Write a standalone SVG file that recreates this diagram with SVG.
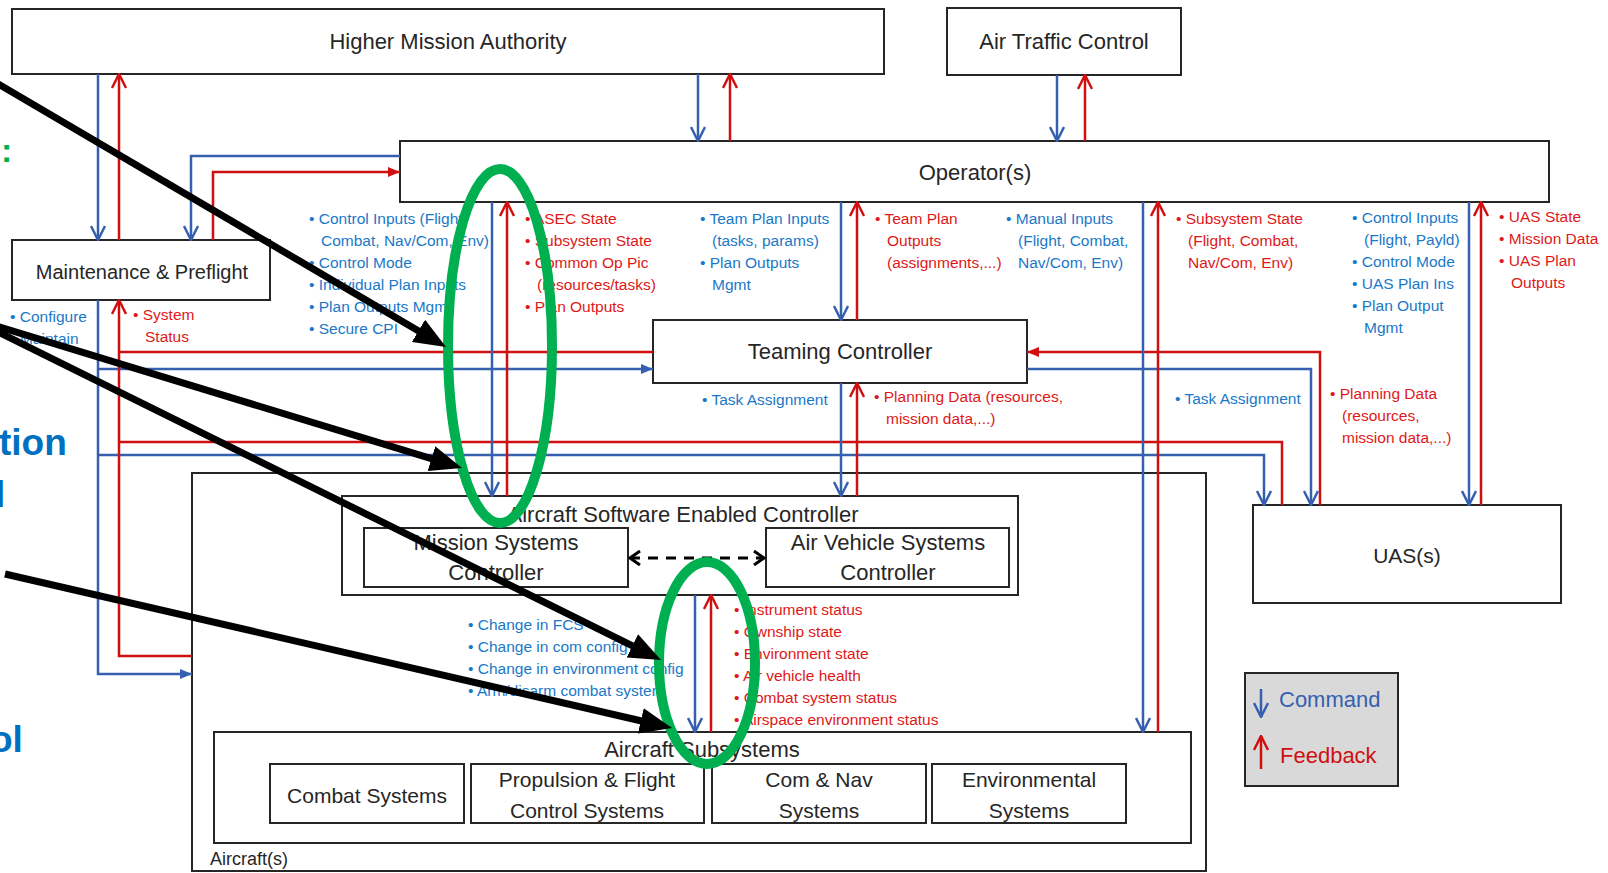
<svg xmlns="http://www.w3.org/2000/svg" width="1608" height="873" viewBox="0 0 1608 873">
  <defs>
    <style>
      .box{fill:#fff;stroke:#262626;stroke-width:2}
      .lbl{font-family:"Liberation Sans",Arial,sans-serif;font-size:22px;fill:#262626;text-anchor:middle}
      .cmd{fill:none;stroke:#3560b0;stroke-width:2.5}
      .fb{fill:none;stroke:#d01010;stroke-width:2.5}
      .tb{font-family:"Liberation Sans",Arial,sans-serif;font-size:15.5px;fill:#1a78c8}
      .tr{font-family:"Liberation Sans",Arial,sans-serif;font-size:15.5px;fill:#e01818}
      .side{font-family:"Liberation Sans",Arial,sans-serif;font-weight:bold;fill:#0070c0}
      .note{fill:none;stroke:#000;stroke-width:7}
      .ring{fill:none;stroke:#00b050;stroke-width:10}
    </style>
    <!-- open chevron heads for vertical flows -->
    <marker id="vB" viewBox="0 0 16 16" refX="15" refY="8" markerWidth="16" markerHeight="16" markerUnits="userSpaceOnUse" orient="auto">
      <path d="M1,1 L15,8 L1,15" fill="none" stroke="#3560b0" stroke-width="2.5"/>
    </marker>
    <marker id="vR" viewBox="0 0 16 16" refX="15" refY="8" markerWidth="16" markerHeight="16" markerUnits="userSpaceOnUse" orient="auto">
      <path d="M1,1 L15,8 L1,15" fill="none" stroke="#d01010" stroke-width="2.5"/>
    </marker>
    <!-- solid heads for horizontal flows -->
    <marker id="tB" viewBox="0 0 12 12" refX="12" refY="6" markerWidth="12" markerHeight="12" markerUnits="userSpaceOnUse" orient="auto">
      <path d="M0,1 L12,6 L0,11 z" fill="#3560b0"/>
    </marker>
    <marker id="tR" viewBox="0 0 12 12" refX="12" refY="6" markerWidth="12" markerHeight="12" markerUnits="userSpaceOnUse" orient="auto">
      <path d="M0,1 L12,6 L0,11 z" fill="#d01010"/>
    </marker>
    <marker id="chev" viewBox="0 0 14 16" refX="12" refY="8" markerWidth="14" markerHeight="16" markerUnits="userSpaceOnUse" orient="auto-start-reverse">
      <path d="M2,1 L12,8 L2,15" fill="none" stroke="#000" stroke-width="3"/>
    </marker>
    <marker id="big" viewBox="0 0 32 26" refX="12" refY="13" markerWidth="32" markerHeight="26" markerUnits="userSpaceOnUse" orient="auto">
      <path d="M0,0 L32,13 L0,26 z" fill="#000"/>
    </marker>
  </defs>

  <rect width="1608" height="873" fill="#fff"/>

  <!-- nodes -->
  <g id="aircraft">
    <rect class="box" x="192" y="473" width="1014" height="398"/>
    <text x="210" y="865" font-family="Liberation Sans, Arial, sans-serif" font-size="18" fill="#262626">Aircraft(s)</text>
  </g>
  <g id="higher-mission-authority">
    <rect class="box" x="12" y="9" width="872" height="65"/>
    <text class="lbl" x="448" y="49">Higher Mission Authority</text>
  </g>
  <g id="air-traffic-control">
    <rect class="box" x="947" y="8" width="234" height="67"/>
    <text class="lbl" x="1064" y="49">Air Traffic Control</text>
  </g>
  <g id="operators">
    <rect class="box" x="400" y="141" width="1149" height="61"/>
    <text class="lbl" x="975" y="180">Operator(s)</text>
  </g>
  <g id="maintenance">
    <rect class="box" x="12" y="240" width="258" height="60"/>
    <text class="lbl" x="142" y="279" style="font-size:20px">Maintenance &amp; Preflight</text>
  </g>
  <g id="teaming-controller">
    <rect class="box" x="653" y="320" width="374" height="63"/>
    <text class="lbl" x="840" y="359">Teaming Controller</text>
  </g>
  <g id="asec">
    <rect class="box" x="342" y="496" width="676" height="99"/>
    <text class="lbl" x="683" y="522">Aircraft Software Enabled Controller</text>
  </g>
  <g id="mission-systems-controller">
    <rect class="box" x="364" y="528" width="264" height="59"/>
    <text class="lbl" x="496" y="550">Mission Systems</text>
    <text class="lbl" x="496" y="580">Controller</text>
  </g>
  <g id="air-vehicle-systems-controller">
    <rect class="box" x="766" y="528" width="243" height="59"/>
    <text class="lbl" x="888" y="550">Air Vehicle Systems</text>
    <text class="lbl" x="888" y="580">Controller</text>
  </g>
  <g id="aircraft-subsystems">
    <rect class="box" x="214" y="732" width="977" height="111"/>
    <text class="lbl" x="702" y="757">Aircraft Subsystems</text>
  </g>
  <g id="combat-systems">
    <rect class="box" x="270" y="764" width="194" height="59"/>
    <text class="lbl" x="367" y="803" style="font-size:21px">Combat Systems</text>
  </g>
  <g id="propulsion-flight-control">
    <rect class="box" x="471" y="764" width="233" height="59"/>
    <text class="lbl" x="587" y="787" style="font-size:21px">Propulsion &amp; Flight</text>
    <text class="lbl" x="587" y="818" style="font-size:21px">Control Systems</text>
  </g>
  <g id="com-nav-systems">
    <rect class="box" x="712" y="764" width="214" height="59"/>
    <text class="lbl" x="819" y="787" style="font-size:21px">Com &amp; Nav</text>
    <text class="lbl" x="819" y="818" style="font-size:21px">Systems</text>
  </g>
  <g id="environmental-systems">
    <rect class="box" x="932" y="764" width="194" height="59"/>
    <text class="lbl" x="1029" y="787" style="font-size:21px">Environmental</text>
    <text class="lbl" x="1029" y="818" style="font-size:21px">Systems</text>
  </g>
  <g id="uas">
    <rect class="box" x="1253" y="505" width="308" height="98"/>
    <text class="lbl" x="1407" y="563" style="font-size:21px">UAS(s)</text>
  </g>
  <g id="legend">
    <rect x="1245" y="673" width="153" height="113" fill="#d9d9d9" stroke="#262626" stroke-width="2"/>
    <path class="cmd" d="M1261,689 V717" marker-end="url(#vB)"/>
    <text x="1279" y="707" font-family="Liberation Sans, Arial, sans-serif" font-size="22" fill="#3560b0">Command</text>
    <path class="fb" d="M1261,769 V736" marker-end="url(#vR)"/>
    <text x="1280" y="763" font-family="Liberation Sans, Arial, sans-serif" font-size="22" fill="#d01010">Feedback</text>
  </g>

  <!-- connectors -->
  <g id="connectors">
    <!-- authority / ATC links -->
    <path class="cmd" d="M98,74 V240" marker-end="url(#vB)"/>
    <path class="fb" d="M119,240 V74" marker-end="url(#vR)"/>
    <path class="cmd" d="M698,74 V141" marker-end="url(#vB)"/>
    <path class="fb" d="M730,141 V74" marker-end="url(#vR)"/>
    <path class="cmd" d="M1057,75 V141" marker-end="url(#vB)"/>
    <path class="fb" d="M1085,141 V75" marker-end="url(#vR)"/>
    <!-- operator / maintenance -->
    <path class="cmd" d="M400,156 H191 V240" marker-end="url(#vB)"/>
    <path class="fb" d="M213,240 V172 H400" marker-end="url(#tR)"/>
    <!-- maintenance command bus -->
    <path class="cmd" d="M98,300 V674 H192" marker-end="url(#tB)"/>
    <path class="cmd" d="M98,369 H653" marker-end="url(#tB)"/>
    <path class="cmd" d="M98,455 H1264 V505" marker-end="url(#vB)"/>
    <!-- maintenance feedback bus -->
    <path class="fb" d="M192,656 H119 V300" marker-end="url(#vR)"/>
    <path class="fb" d="M653,352 H119"/>
    <path class="fb" d="M1282,505 V442 H119"/>
    <!-- operator / ASEC -->
    <path class="cmd" d="M492,202 V496" marker-end="url(#vB)"/>
    <path class="fb" d="M507,496 V202" marker-end="url(#vR)"/>
    <!-- operator / teaming -->
    <path class="cmd" d="M841,202 V320" marker-end="url(#vB)"/>
    <path class="fb" d="M857,320 V202" marker-end="url(#vR)"/>
    <!-- teaming / ASEC -->
    <path class="cmd" d="M841,383 V496" marker-end="url(#vB)"/>
    <path class="fb" d="M857,496 V383" marker-end="url(#vR)"/>
    <!-- teaming / UAS -->
    <path class="fb" d="M1320,505 V352 H1027" marker-end="url(#tR)"/>
    <path class="cmd" d="M1027,369 H1311 V505" marker-end="url(#vB)"/>
    <!-- operator / subsystems -->
    <path class="cmd" d="M1143,202 V732" marker-end="url(#vB)"/>
    <path class="fb" d="M1158,732 V202" marker-end="url(#vR)"/>
    <!-- operator / UAS -->
    <path class="cmd" d="M1469,202 V505" marker-end="url(#vB)"/>
    <path class="fb" d="M1481,505 V202" marker-end="url(#vR)"/>
    <!-- ASEC / subsystems -->
    <path class="cmd" d="M695,595 V732" marker-end="url(#vB)"/>
    <path class="fb" d="M711,732 V595" marker-end="url(#vR)"/>
    <!-- controller peer link -->
    <path d="M630,558 H764" fill="none" stroke="#000" stroke-width="3" stroke-dasharray="10 8" marker-start="url(#chev)" marker-end="url(#chev)"/>
  </g>

  <!-- flow labels -->
  <g id="labels">
    <text class="tb" x="10" y="322">• Configure</text>
    <text class="tb" x="20" y="344">Maintain</text>
    <text class="tr" x="133" y="320">• System</text>
    <text class="tr" x="145" y="342">Status</text>

    <text class="tb" x="309" y="224">• Control Inputs (Flight,</text>
    <text class="tb" x="321" y="246">Combat, Nav/Com, Env)</text>
    <text class="tb" x="309" y="268">• Control Mode</text>
    <text class="tb" x="309" y="290">• Individual Plan Inputs</text>
    <text class="tb" x="309" y="312">• Plan Outputs Mgmt</text>
    <text class="tb" x="309" y="334">• Secure CPI</text>

    <text class="tr" x="525" y="224">• ASEC State</text>
    <text class="tr" x="525" y="246">• Subsystem State</text>
    <text class="tr" x="525" y="268">• Common Op Pic</text>
    <text class="tr" x="537" y="290">(resources/tasks)</text>
    <text class="tr" x="525" y="312">• Plan Outputs</text>

    <text class="tb" x="700" y="224">• Team Plan Inputs</text>
    <text class="tb" x="712" y="246">(tasks, params)</text>
    <text class="tb" x="700" y="268">• Plan Outputs</text>
    <text class="tb" x="712" y="290">Mgmt</text>

    <text class="tr" x="875" y="224">• Team Plan</text>
    <text class="tr" x="887" y="246">Outputs</text>
    <text class="tr" x="887" y="268">(assignments,...)</text>

    <text class="tb" x="1006" y="224">• Manual Inputs</text>
    <text class="tb" x="1018" y="246">(Flight, Combat,</text>
    <text class="tb" x="1018" y="268">Nav/Com, Env)</text>

    <text class="tr" x="1176" y="224">• Subsystem State</text>
    <text class="tr" x="1188" y="246">(Flight, Combat,</text>
    <text class="tr" x="1188" y="268">Nav/Com, Env)</text>

    <text class="tb" x="1352" y="223">• Control Inputs</text>
    <text class="tb" x="1364" y="245">(Flight, Payld)</text>
    <text class="tb" x="1352" y="267">• Control Mode</text>
    <text class="tb" x="1352" y="289">• UAS Plan Ins</text>
    <text class="tb" x="1352" y="311">• Plan Output</text>
    <text class="tb" x="1364" y="333">Mgmt</text>

    <text class="tr" x="1499" y="222">• UAS State</text>
    <text class="tr" x="1499" y="244">• Mission Data</text>
    <text class="tr" x="1499" y="266">• UAS Plan</text>
    <text class="tr" x="1511" y="288">Outputs</text>

    <text class="tb" x="702" y="405">• Task Assignment</text>
    <text class="tr" x="874" y="402">• Planning Data (resources,</text>
    <text class="tr" x="886" y="424">mission data,...)</text>

    <text class="tb" x="1175" y="404">• Task Assignment</text>
    <text class="tr" x="1330" y="399">• Planning Data</text>
    <text class="tr" x="1342" y="421">(resources,</text>
    <text class="tr" x="1342" y="443">mission data,...)</text>

    <text class="tb" x="468" y="630">• Change in FCS</text>
    <text class="tb" x="468" y="652">• Change in com config</text>
    <text class="tb" x="468" y="674">• Change in environment config</text>
    <text class="tb" x="468" y="696">• Arm/disarm combat system</text>

    <text class="tr" x="734" y="615">• Instrument status</text>
    <text class="tr" x="734" y="637">• Ownship state</text>
    <text class="tr" x="734" y="659">• Environment state</text>
    <text class="tr" x="734" y="681">• Air vehicle health</text>
    <text class="tr" x="734" y="703">• Combat system status</text>
    <text class="tr" x="734" y="725">• Airspace environment status</text>
  </g>

  <!-- text running in from the left edge -->
  <g id="edge-text">
    <text x="1" y="162" font-family="Liberation Sans, Arial, sans-serif" font-weight="bold" font-size="34" fill="#00b050">:</text>
    <text class="side" x="-1" y="455" font-size="37">tion</text>
    <text class="side" x="-5" y="507" font-size="37">l</text>
    <text class="side" x="-10" y="752" font-size="37">ol</text>
  </g>

  <!-- highlight rings and pointers -->
  <g id="highlights">
    <ellipse class="ring" cx="500" cy="346" rx="52" ry="177"/>
    <ellipse class="ring" cx="707" cy="663" rx="48" ry="101"/>
    <path class="note" d="M-17,75 L428.8,336.9" marker-end="url(#big)"/>
    <path class="note" d="M-19,321.4 L442.9,462.2" marker-end="url(#big)"/>
    <path class="note" d="M-18,324 L643.1,651.1" marker-end="url(#big)"/>
    <path class="note" d="M5,574 L652.5,723.5" marker-end="url(#big)"/>
  </g>
</svg>
